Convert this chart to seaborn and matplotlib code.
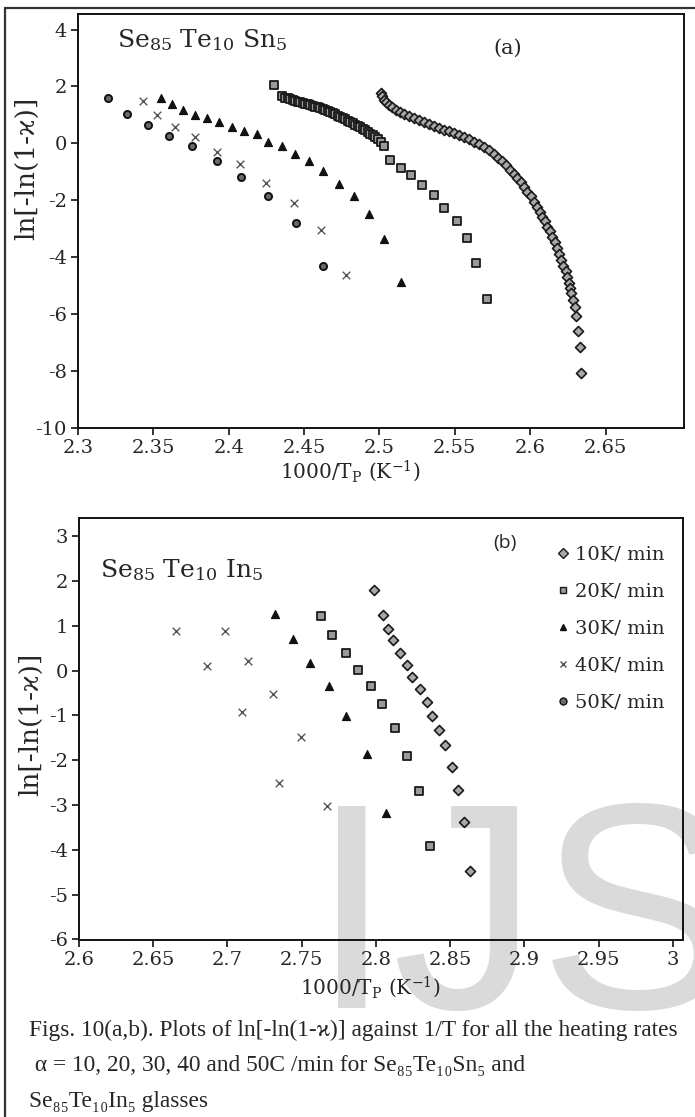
import matplotlib
matplotlib.use("Agg")
import matplotlib.pyplot as plt
import seaborn as sns
from matplotlib.lines import Line2D

sns.set_style("ticks")
plt.rcParams["font.family"] = ["DejaVu Serif"]
plt.rcParams["mathtext.fontset"] = "dejavuserif"

# ---------------- (a) Se85Te10Sn5 ----------------
a10_x = [2.5007, 2.5016, 2.5029, 2.5044, 2.5062, 2.5084, 2.5107, 2.5135, 2.5162,
         2.5195, 2.5228, 2.5261, 2.5294, 2.5327, 2.5361, 2.5394, 2.5427, 2.5460,
         2.5493, 2.5527, 2.5560, 2.5593, 2.5626, 2.5659, 2.5692, 2.5725, 2.5759,
         2.5786, 2.5814, 2.5841, 2.5869, 2.5891, 2.5914, 2.5936, 2.5958, 2.5980,
         2.6002, 2.6024, 2.6046, 2.6063, 2.6080, 2.6096, 2.6113, 2.6130, 2.6146,
         2.6162, 2.6179, 2.6192, 2.6206, 2.6220, 2.6234, 2.6245, 2.6256, 2.6264,
         2.6272, 2.6285, 2.6296, 2.6302, 2.6316, 2.6327, 2.6340]
a10_y = [1.77, 1.65, 1.53, 1.44, 1.36, 1.27, 1.18, 1.11, 1.04,
         0.96, 0.89, 0.82, 0.75, 0.68, 0.62, 0.55, 0.48, 0.42,
         0.36, 0.29, 0.22, 0.14, 0.06, -0.03, -0.13, -0.25, -0.37,
         -0.50, -0.64, -0.78, -0.93, -1.08, -1.23, -1.37, -1.52, -1.70,
         -1.87, -2.05, -2.23, -2.40, -2.58, -2.75, -2.93, -3.10, -3.28,
         -3.48, -3.69, -3.90, -4.10, -4.30, -4.51, -4.71, -4.92, -5.10,
         -5.27, -5.50, -5.75, -6.07, -6.60, -7.15, -8.09]

a20_x = [2.4300, 2.4355, 2.4373, 2.4391, 2.4408, 2.4424, 2.4440, 2.4457, 2.4473,
         2.4490, 2.4506, 2.4523, 2.4540, 2.4556, 2.4573, 2.4590, 2.4606, 2.4623,
         2.4640, 2.4656, 2.4672, 2.4689, 2.4706, 2.4722, 2.4738, 2.4755, 2.4772,
         2.4788, 2.4805, 2.4822, 2.4838, 2.4855, 2.4872, 2.4888, 2.4905, 2.4921,
         2.4938, 2.4954, 2.4971, 2.4988, 2.5007, 2.5027, 2.5072, 2.5140, 2.5206,
         2.5285, 2.5360, 2.5427, 2.5516, 2.5582, 2.5637, 2.5715]
a20_y = [2.06, 1.65, 1.61, 1.58, 1.55, 1.53, 1.50, 1.47, 1.45,
         1.43, 1.40, 1.37, 1.35, 1.32, 1.29, 1.26, 1.23, 1.20,
         1.17, 1.14, 1.10, 1.06, 1.02, 0.97, 0.93, 0.88, 0.84,
         0.79, 0.75, 0.70, 0.66, 0.62, 0.57, 0.51, 0.46, 0.40,
         0.34, 0.28, 0.22, 0.16, 0.04, -0.11, -0.58, -0.87, -1.11,
         -1.46, -1.81, -2.28, -2.75, -3.34, -4.22, -5.47]

a30_x = [2.3548, 2.3626, 2.3699, 2.3776, 2.3858, 2.3935, 2.4019, 2.4102, 2.4185,
         2.4263, 2.4351, 2.4437, 2.4532, 2.4627, 2.4729, 2.4830, 2.4930, 2.5029,
         2.5140]
a30_y = [1.61, 1.38, 1.18, 1.00, 0.89, 0.75, 0.57, 0.44, 0.32,
         0.06, -0.08, -0.37, -0.64, -0.99, -1.43, -1.87, -2.49, -3.37,
         -4.87]

a40_x = [2.3434, 2.3527, 2.3641, 2.3774, 2.3920, 2.4074, 2.4249, 2.4432, 2.4610, 2.4775]
a40_y = [1.50, 0.98, 0.57, 0.22, -0.29, -0.73, -1.38, -2.11, -3.05, -4.63]

a50_x = [2.3197, 2.3328, 2.3467, 2.3603, 2.3754, 2.3920, 2.4084, 2.4263, 2.4444, 2.4627]
a50_y = [1.60, 1.03, 0.65, 0.26, -0.11, -0.62, -1.17, -1.85, -2.79, -4.31]

# ---------------- (b) Se85Te10In5 ----------------
b10_x = [2.7990, 2.8045, 2.8080, 2.8115, 2.8162, 2.8208, 2.8246, 2.8295, 2.8341,
         2.8380, 2.8423, 2.8467, 2.8510, 2.8551, 2.8596, 2.8634]
b10_y = [1.80, 1.24, 0.92, 0.68, 0.39, 0.12, -0.15, -0.41, -0.70,
         -1.01, -1.33, -1.67, -2.16, -2.67, -3.38, -4.47]

b20_x = [2.7630, 2.7703, 2.7800, 2.7878, 2.7968, 2.8040, 2.8126, 2.8212, 2.8288, 2.8362]
b20_y = [1.22, 0.80, 0.39, 0.02, -0.35, -0.75, -1.28, -1.90, -2.69, -3.92]

b30_x = [2.7323, 2.7439, 2.7559, 2.7682, 2.7800, 2.7943, 2.8071]
b30_y = [1.27, 0.71, 0.17, -0.35, -1.02, -1.87, -3.17]

b40_x = [2.6652, 2.6859, 2.6983, 2.7135, 2.7095, 2.7304, 2.7496, 2.7345, 2.7673]
b40_y = [0.88, 0.10, 0.88, 0.21, -0.93, -0.51, -1.48, -2.50, -3.02]

rate_labels = ["10K/ min", "20K/ min", "30K/ min", "40K/ min", "50K/ min"]

a_yticks = [-10, -8, -6, -4, -2, 0, 2, 4]
a_xticks = [2.3, 2.35, 2.4, 2.45, 2.5, 2.55, 2.6, 2.65]
a_xticklabels = ["2.3", "2.35", "2.4", "2.45", "2.5", "2.55", "2.6", "2.65"]
b_yticks = [-6, -5, -4, -3, -2, -1, 0, 1, 2, 3]
b_xticks = [2.6, 2.65, 2.7, 2.75, 2.8, 2.85, 2.9, 2.95, 3.0]
b_xticklabels = ["2.6", "2.65", "2.7", "2.75", "2.8", "2.85", "2.9", "2.95", "3"]

# marker styles per heating rate
styles = {
    "10K/ min": dict(marker="D", s=26, color="#a8a8a8", edgecolor="#1a1a1a", linewidth=1.2),
    "20K/ min": dict(marker="s", s=36, color="#9a9a9a", edgecolor="#1a1a1a", linewidth=1.3),
    "30K/ min": dict(marker="^", s=34, color="#111111", edgecolor="#111111", linewidth=0.8),
    "40K/ min": dict(marker="x", s=30, color="#555555", linewidth=1.0),
    "50K/ min": dict(marker="o", s=26, color="#6a6a6a", edgecolor="#111111", linewidth=1.4),
}

W, H = 695, 1117
fig = plt.figure(figsize=(W / 100, H / 100), dpi=100)


def box(l, t, r, b):
    return [l / W, 1 - b / H, (r - l) / W, (b - t) / H]


ax_a = fig.add_axes(box(78, 14, 684, 427.5))
ax_b = fig.add_axes(box(79, 518.3, 683.3, 939.5))

series_a = [(a10_x, a10_y), (a20_x, a20_y), (a30_x, a30_y), (a40_x, a40_y), (a50_x, a50_y)]
for lab, (xs, ys) in zip(rate_labels, series_a):
    sns.scatterplot(x=xs, y=ys, ax=ax_a, legend=False, zorder=3, **styles[lab])

series_b = [(b10_x, b10_y), (b20_x, b20_y), (b30_x, b30_y), (b40_x, b40_y)]
for lab, (xs, ys) in zip(rate_labels, series_b):
    sns.scatterplot(x=xs, y=ys, ax=ax_b, legend=False, zorder=3, **styles[lab])

ylab = "ln[-ln(1-ϰ)]"
xlab = r"1000/T$_{\mathrm{P}}$ (K$^{\mathrm{-1}}$)"

for ax in (ax_a, ax_b):
    ax.set_facecolor("none")
    for sp in ax.spines.values():
        sp.set_linewidth(1.4)
        sp.set_color("#111111")
    ax.tick_params(axis="both", direction="out", length=5, width=1.2,
                   labelsize=14, pad=3, color="#111111")
    ax.set_xlabel("")
    ax.set_ylabel("")

ax_a.set_xlim(2.3, 2.702)
ax_a.set_ylim(-10, 4.55)
ax_a.set_xticks(a_xticks)
ax_a.set_xticklabels(a_xticklabels)
ax_a.set_yticks(a_yticks)
ax_a.set_yticklabels([str(v) for v in a_yticks])

ax_b.set_xlim(2.6, 3.007)
ax_b.set_ylim(-6, 3.4)
ax_b.set_xticks(b_xticks)
ax_b.set_xticklabels(b_xticklabels)
ax_b.set_yticks(b_yticks)
ax_b.set_yticklabels([str(v) for v in b_yticks])

# axis titles
fig.text(27 / W, 1 - 168 / H, ylab, rotation=90, ha="center", va="center", fontsize=19)
fig.text(31 / W, 1 - 724 / H, ylab, rotation=90, ha="center", va="center", fontsize=19)
fig.text(350 / W, 1 - 471 / H, xlab, ha="center", va="center", fontsize=14.5)
fig.text(370 / W, 1 - 987 / H, xlab, ha="center", va="center", fontsize=14.5)

# composition labels and panel tags
fig.text(117 / W, 1 - 47 / H, r"$\mathrm{Se_{85}\ Te_{10}\ Sn_{5}}$", ha="left",
         va="baseline", fontsize=18)
fig.text(100 / W, 1 - 577 / H, r"$\mathrm{Se_{85}\ Te_{10}\ In_{5}}$", ha="left",
         va="baseline", fontsize=18)
fig.text(508 / W, 1 - 48 / H, "(a)", ha="center", va="center", fontsize=15)
fig.text(505 / W, 1 - 543 / H, "(b)", ha="center", va="center", fontsize=14,
         family="Open Sans")

# legend
handles = [Line2D([], [], linestyle="none", marker=styles[l]["marker"],
                  markersize=5, markerfacecolor=styles[l]["color"],
                  markeredgecolor=styles[l].get("edgecolor", styles[l]["color"]),
                  markeredgewidth=1.0) for l in rate_labels]
ax_b.legend(handles, rate_labels, loc="upper left", bbox_to_anchor=(0.793, 0.9355),
            frameon=False, fontsize=14, handlelength=0.5, handletextpad=0.35,
            labelspacing=0.98, borderpad=0, borderaxespad=0)

# watermark
fig.text(311 / W, 1 - 1008 / H, "IJS", fontsize=211, family="Liberation Sans",
         color="#dadada", ha="left", va="baseline", zorder=-5)

# caption
cap_fam = ["Liberation Serif", "DejaVu Serif"]
fig.text(29 / W, 1 - 1030 / H,
         "Figs. 10(a,b). Plots of ln[-ln(1-ϰ)] against 1/T for all the heating rates",
         ha="left", va="center", fontsize=16.8, family=cap_fam)
fig.text(29 / W, 1 - 1065 / H,
         " α = 10, 20, 30, 40 and 50C /min for Se₈₅Te₁₀Sn₅ and",
         ha="left", va="center", fontsize=16.8, family=cap_fam)
fig.text(29 / W, 1 - 1102 / H, "Se₈₅Te₁₀In₅ glasses",
         ha="left", va="center", fontsize=16.8, family=cap_fam)

# page frame
fig.add_artist(Line2D([5 / W, 1], [1 - 8 / H, 1 - 8 / H], transform=fig.transFigure,
                      color="#333333", linewidth=1.6))
fig.add_artist(Line2D([5 / W, 5 / W], [0, 1 - 8 / H], transform=fig.transFigure,
                      color="#333333", linewidth=1.6))

fig.savefig("out.png", dpi=100)
